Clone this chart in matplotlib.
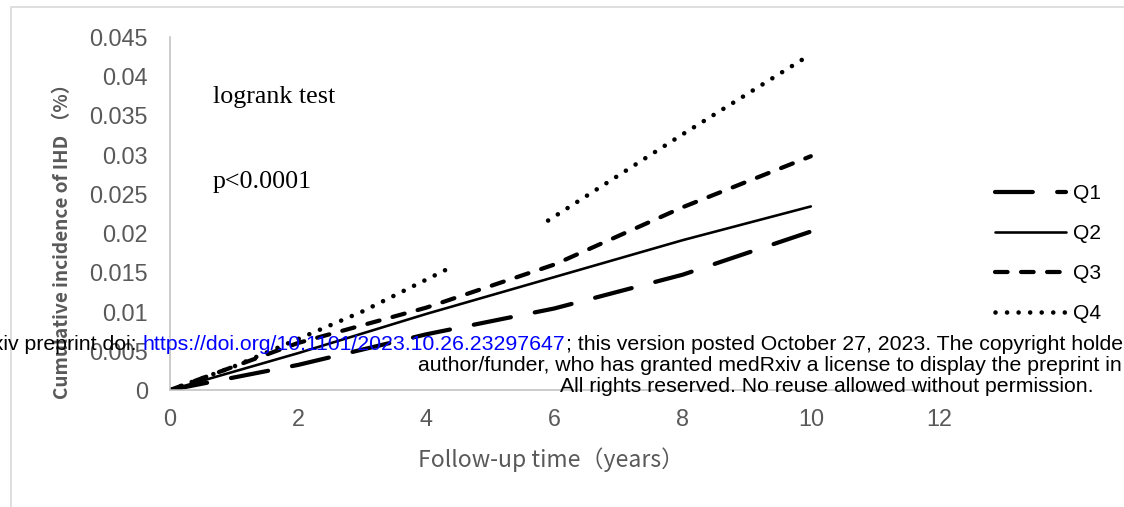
import matplotlib
matplotlib.use("Agg")
import matplotlib.pyplot as plt
from matplotlib.patches import Rectangle

# data
q1_x = [0, 2, 4, 6, 8, 10]
q1_y = [0, 0.0032, 0.0071, 0.0104, 0.0147, 0.0202]
q2_x = [0, 2, 4, 6, 8, 10]
q2_y = [0, 0.0047, 0.0097, 0.0144, 0.0191, 0.0234]
q3_x = [0, 2, 4, 6, 8, 10]
q3_y = [0, 0.0060, 0.0105, 0.0160, 0.0233, 0.0298]
q4_x = [0, 1, 2, 3, 4.3, None, 5.9, 8, 10]
q4_y = [0, 0.0030, 0.0065, 0.0100, 0.0153, None, 0.0216, 0.0326, 0.0428]
labels = ["Q1", "Q2", "Q3", "Q4"]
x_ticks = [0, 2, 4, 6, 8, 10, 12]
y_ticks = [0, 0.005, 0.01, 0.015, 0.02, 0.025, 0.03, 0.035, 0.04, 0.045]
y_tick_labels = ["0", "0.005", "0.01", "0.015", "0.02", "0.025", "0.03", "0.035", "0.04", "0.045"]

W, H = 1124, 507


def fx(px):
    return px / W


def fy(py):
    return 1 - py / H


def pt(px):
    return px * 72 / 100


gray = "#595959"
sans = ["Liberation Sans", "DejaVu Sans"]
cjk = ["Noto Sans CJK JP", "DejaVu Sans"]

fig = plt.figure(figsize=(W / 100, H / 100), dpi=100)
ax = fig.add_axes([fx(170), fy(390), fx(939) - fx(170), fy(37) - fy(390)])

# outer chart border (only left and top visible)
fig.add_artist(Rectangle((fx(11), -0.1), 1.2, fy(7) + 0.1, transform=fig.transFigure,
                         fill=False, edgecolor="#D9D9D9", linewidth=1.2))

q4_x = [float("nan") if v is None else v for v in q4_x]
q4_y = [float("nan") if v is None else v for v in q4_y]

lw_thick = pt(4.2)
ax.plot(q1_x, q1_y, color="black", lw=lw_thick, linestyle=(0, (9, 5.8)),
        dash_capstyle="round", label=labels[0])
ax.plot(q2_x, q2_y, color="black", lw=pt(2.6), solid_capstyle="round", label=labels[1])
ax.plot(q3_x, q3_y, color="black", lw=lw_thick, linestyle=(0, (3.0, 3.2)),
        dash_capstyle="round", label=labels[2])
ax.plot(q4_x, q4_y, color="black", lw=pt(4.6), linestyle=(0, (0.01, 2.5)),
        dash_capstyle="round", label=labels[3])

ax.set_xlim(0, 12)
ax.set_ylim(0, 0.045)
ax.set_xticks(x_ticks)
ax.set_yticks(y_ticks)
ax.set_yticklabels(y_tick_labels)
for s in ["top", "right"]:
    ax.spines[s].set_visible(False)
for s in ["left", "bottom"]:
    ax.spines[s].set_color("#BFBFBF")
    ax.spines[s].set_linewidth(1.1)
ax.tick_params(axis="both", length=0, labelcolor=gray, labelsize=pt(23.4))
ax.tick_params(axis="y", pad=pt(22))
ax.tick_params(axis="x", pad=pt(18))
for lab in ax.get_xticklabels() + ax.get_yticklabels():
    lab.set_family(sans)

ax.set_xlabel("Follow-up time（years）", family=cjk, fontsize=pt(23), color=gray, va="center")
ax.xaxis.set_label_coords(fx(551), fy(460), transform=fig.transFigure)
ax.set_ylabel("Cumulative incidence of IHD （%）", family=cjk, fontsize=pt(19),
              fontweight="bold", color=gray, va="center")
ax.yaxis.set_label_coords(fx(63), fy(237), transform=fig.transFigure)

fig.text(fx(213), fy(103), "logrank test", family="Liberation Serif", fontsize=pt(26),
         va="baseline", ha="left")
fig.text(fx(213), fy(188), "p<0.0001", family="Liberation Serif", fontsize=pt(26),
         va="baseline", ha="left")

leg = ax.legend(loc="upper left", bbox_to_anchor=(fx(995), fy(184)), bbox_transform=fig.transFigure,
                frameon=False, prop={"family": sans, "size": pt(21)}, handlelength=3.36,
                handletextpad=0.34, labelspacing=1.0, borderpad=0, borderaxespad=0)

# medRxiv watermark
wm = {"family": sans, "fontsize": pt(21.3)}
fig.text(fx(137), fy(350), "medRxiv preprint doi:", ha="right", va="baseline", **wm)
t_url = fig.text(fx(143), fy(350), "https://doi.org/10.1101/2023.10.26.23297647", ha="left",
                 va="baseline", color="blue", **wm)
ax.annotate("; this version posted October 27, 2023. The copyright holder for this preprint "
            "(which was not certified by peer review) is the", xy=(1, 0), xycoords=t_url,
            ha="left", va="bottom", annotation_clip=False, **wm)
fig.text(fx(418), fy(371), "author/funder, who has granted medRxiv a license to display the "
         "preprint in perpetuity.", ha="left", va="baseline", **wm)
fig.text(fx(560), fy(392), "All rights reserved. No reuse allowed without permission.",
         ha="left", va="baseline", **wm)

fig.savefig("out.png", dpi=100)
